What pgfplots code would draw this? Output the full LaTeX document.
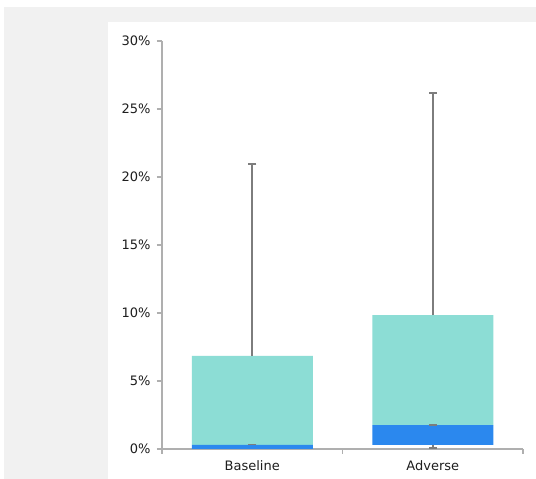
\documentclass[border=0pt]{standalone}
\usepackage{fontspec}
\setmainfont{DejaVu Sans}
\usepackage{pgfplots}
\pgfplotsset{compat=1.18}
\definecolor{bg}{RGB}{241,241,241}
\definecolor{axgray}{RGB}{175,175,175}
\definecolor{whisk}{RGB}{125,125,125}
\definecolor{tealbar}{RGB}{140,221,213}
\definecolor{bluebar}{RGB}{43,136,238}
\definecolor{txt}{RGB}{30,30,30}
\begin{document}
\begin{tikzpicture}[x=1pt,y=1pt]
\useasboundingbox (0,0) rectangle (536,479);
\fill[white] (0,0) rectangle (536,479);
\fill[bg] (4,0) rectangle (536,472);
\fill[white] (108,0) rectangle (536,457);
\pgfplotsset{common/.style={
  at={(162pt,30pt)}, anchor=south west, scale only axis,
  width=361pt, height=408pt,
  xmin=-0.5, xmax=1.5, ymin=0, ymax=30,
  /pgf/number format/assume math mode=true,
  tick label style={font=\fontsize{13}{15}\selectfont, text=txt},
}}
\begin{axis}[common,
  ybar stacked, bar width=121pt,
  axis x line=bottom, axis y line=left,
  axis line style={-, draw=axgray, line width=1.4pt},
  tick style={draw=axgray, line width=1.4pt},
  tick align=outside, major tick length=5pt,
  ytick={0,5,10,15,20,25,30},
  yticklabel={\pgfmathprintnumber{\tick}\%},
  yticklabel style={xshift=-3pt},
  xtick={-0.5,0.5,1.5}, xticklabels={},
  extra x ticks={0,1}, extra x tick labels={Baseline,Adverse},
  extra x tick style={major tick length=0pt, tick label style={yshift=-8pt}},
]
\addplot[draw=none, fill=none] coordinates {(0,0) (1,0.3)};
\addplot[draw=none, fill=bluebar] coordinates {(0,0.3) (1,1.45)};
\addplot[draw=none, fill=tealbar] coordinates {(0,6.55) (1,8.1)};
\end{axis}
\begin{axis}[common, hide axis, clip=false]
% upper whiskers (Q3 to max)
\addplot[whisk, line width=1.8pt, mark=none] coordinates {(0,6.85) (0,20.95)};
\addplot[whisk, line width=1.8pt, mark=none] coordinates {(1,9.85) (1,26.2)};
% lower whisker (min to Q1)
\addplot[whisk, line width=1.8pt, mark=none] coordinates {(1,0.1) (1,0.3)};
% caps at max / min
\addplot[only marks, mark=-, mark size=4pt, mark options={draw=whisk, line width=1.8pt}]
  coordinates {(0,20.95) (1,26.2) (1,0.1)};
% medians
\addplot[only marks, mark=-, mark size=4pt, mark options={draw=whisk, line width=1.6pt}]
  coordinates {(0,0.32) (1,1.75)};
\end{axis}
\end{tikzpicture}
\end{document}
